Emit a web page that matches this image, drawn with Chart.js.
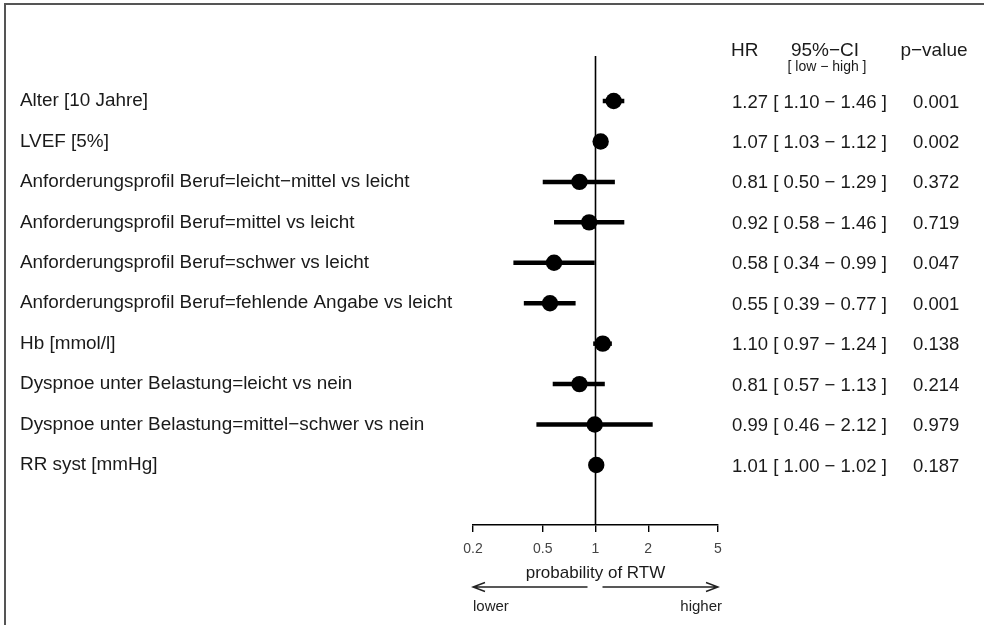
<!DOCTYPE html>
<html>
<head>
<meta charset="utf-8">
<script src="https://cdn.jsdelivr.net/npm/chart.js@4.4.1/dist/chart.umd.min.js"></script>
<style>
  html, body { margin: 0; padding: 0; background: #fff; }
  #wrap { position: relative; width: 984px; height: 625px; }
  #frame { position: absolute; left: 4px; top: 3px; right: 0; bottom: 0;
           border-left: 2px solid #555; border-top: 2px solid #555; pointer-events: none; }
  canvas { display: block; }
</style>
</head>
<body>
<div id="wrap">
  <canvas id="c" width="984" height="625"></canvas>
  <div id="frame"></div>
</div>
<script>
// ---- data ----
const labels = [
  "Alter [10 Jahre]",
  "LVEF [5%]",
  "Anforderungsprofil Beruf=leicht\u2212mittel vs leicht",
  "Anforderungsprofil Beruf=mittel vs leicht",
  "Anforderungsprofil Beruf=schwer vs leicht",
  "Anforderungsprofil Beruf=fehlende Angabe vs leicht",
  "Hb [mmol/l]",
  "Dyspnoe unter Belastung=leicht vs nein",
  "Dyspnoe unter Belastung=mittel\u2212schwer vs nein",
  "RR syst [mmHg]"
];
const hr     = [1.27, 1.07, 0.81, 0.92, 0.58, 0.55, 1.10, 0.81, 0.99, 1.01];
const ciLow  = [1.10, 1.03, 0.50, 0.58, 0.34, 0.39, 0.97, 0.57, 0.46, 1.00];
const ciHigh = [1.46, 1.12, 1.29, 1.46, 0.99, 0.77, 1.24, 1.13, 2.12, 1.02];
const pValues = ["0.001", "0.002", "0.372", "0.719", "0.047", "0.001", "0.138", "0.214", "0.979", "0.187"];
const xTicks = [0.2, 0.5, 1, 2, 5];
const xAxisTitle = "probability of RTW";
const headers = { hr: "HR", ci: "95%\u2212CI", ciSub: "[ low \u2212 high ]", p: "p\u2212value" };
const arrowLabels = { left: "lower", right: "higher" };

const FONT = "'Liberation Sans', Arial, Helvetica, sans-serif";
const fmt = v => v.toFixed(2);

const ciDatasets = labels.map((_, i) => ({
  type: 'line',
  data: [{ x: ciLow[i], y: i }, { x: ciHigh[i], y: i }],
  borderColor: '#000',
  borderWidth: 4.5,
  pointRadius: 0,
  borderCapStyle: 'butt',
  order: 2
}));

const pointDataset = {
  type: 'scatter',
  data: hr.map((v, i) => ({ x: v, y: i })),
  backgroundColor: '#000',
  borderColor: '#000',
  borderWidth: 0,
  pointRadius: 8.2,
  pointHoverRadius: 8.2,
  order: 1
};

const decorPlugin = {
  id: 'decor',
  beforeDatasetsDraw(chart) {
    const { ctx, chartArea, scales } = chart;
    const x1 = scales.x.getPixelForValue(1);
    ctx.save();
    ctx.strokeStyle = '#000';
    ctx.lineWidth = 1.6;
    ctx.beginPath();
    ctx.moveTo(x1, chartArea.top);
    ctx.lineTo(x1, chartArea.bottom);
    ctx.stroke();
    ctx.restore();
  },
  afterDraw(chart) {
    const { ctx, scales } = chart;
    const ys = scales.y;
    const xs = scales.x;
    ctx.save();
    ctx.fillStyle = '#1a1a1a';
    // headers
    ctx.textBaseline = 'alphabetic';
    ctx.font = `19px ${FONT}`;
    ctx.textAlign = 'left';
    ctx.fillText(headers.hr, 731, 56);
    ctx.textAlign = 'center';
    ctx.fillText(headers.ci, 825, 56);
    ctx.fillText(headers.p, 934, 56);
    ctx.font = `14px ${FONT}`;
    ctx.fillText(headers.ciSub, 827, 71);
    // table rows
    ctx.font = `18.5px ${FONT}`;
    labels.forEach((_, i) => {
      const y = ys.getPixelForValue(i) + 6.6;
      ctx.textAlign = 'left';
      ctx.fillText(`${fmt(hr[i])} [ ${fmt(ciLow[i])} \u2212 ${fmt(ciHigh[i])} ]`, 732, y);
      ctx.fillText(pValues[i], 913, y);
    });
    // arrows
    const xl = xs.getPixelForValue(xTicks[0]);
    const xr = xs.getPixelForValue(xTicks[xTicks.length - 1]);
    const x1 = xs.getPixelForValue(1);
    const ay = 587;
    ctx.strokeStyle = '#222';
    ctx.lineWidth = 1.4;
    ctx.beginPath();
    ctx.moveTo(x1 - 8, ay); ctx.lineTo(xl, ay);
    ctx.moveTo(xl + 12, ay - 4.5); ctx.lineTo(xl, ay); ctx.lineTo(xl + 12, ay + 4.5);
    ctx.moveTo(x1 + 7, ay); ctx.lineTo(xr, ay);
    ctx.moveTo(xr - 12, ay - 4.5); ctx.lineTo(xr, ay); ctx.lineTo(xr - 12, ay + 4.5);
    ctx.stroke();
    ctx.font = `15px ${FONT}`;
    ctx.fillStyle = '#222';
    ctx.textAlign = 'left';
    ctx.fillText(arrowLabels.left, xl, 611);
    ctx.textAlign = 'right';
    ctx.fillText(arrowLabels.right, xr + 4, 611);
    ctx.restore();
  }
};

new Chart(document.getElementById('c'), {
  type: 'scatter',
  data: { datasets: [...ciDatasets, pointDataset] },
  options: {
    responsive: false,
    animation: false,
    events: [],
    layout: { padding: { left: 20, right: 266, top: 56, bottom: 0 } },
    plugins: { legend: { display: false }, tooltip: { enabled: false } },
    scales: {
      x: {
        type: 'logarithmic',
        position: 'bottom',
        min: 0.2,
        max: 5,
        afterBuildTicks: s => { s.ticks = xTicks.map(v => ({ value: v })); },
        afterFit: s => { s.height = 100; },
        ticks: {
          color: '#444',
          font: { family: FONT, size: 14 },
          padding: 9,
          maxRotation: 0,
          autoSkip: false,
          callback: v => String(v)
        },
        grid: { display: true, drawOnChartArea: false, drawTicks: true, tickLength: 7, color: '#000', lineWidth: 1.4 },
        border: { display: true, color: '#000', width: 1.4 },
        title: {
          display: true,
          text: xAxisTitle,
          color: '#1a1a1a',
          font: { family: FONT, size: 17 },
          padding: { top: 2, bottom: 41 }
        }
      },
      y: {
        type: 'linear',
        position: 'left',
        reverse: true,
        min: -1.113,
        max: 10.484,
        afterBuildTicks: s => { s.ticks = labels.map((_, i) => ({ value: i })); },
        afterFit: s => { s.width = 453; },
        ticks: {
          color: '#1a1a1a',
          font: { family: FONT, size: 18.9 },
          crossAlign: 'far',
          autoSkip: false,
          callback: v => labels[v]
        },
        grid: { display: false },
        border: { display: false }
      }
    }
  },
  plugins: [decorPlugin]
});
</script>
</body>
</html>
